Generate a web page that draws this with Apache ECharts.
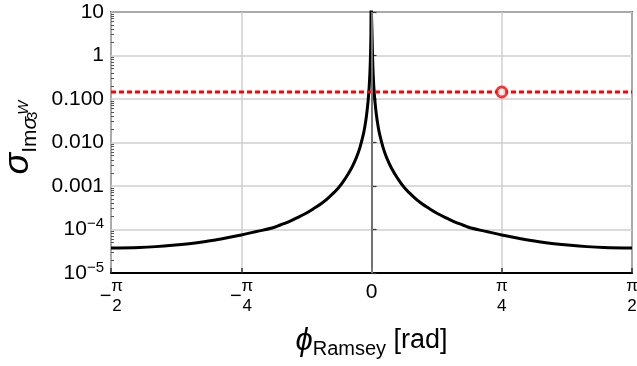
<!DOCTYPE html>
<html>
<head>
<meta charset="utf-8">
<script src="https://cdn.jsdelivr.net/npm/echarts@6/dist/echarts.min.js"></script>
<style>
  html, body { margin: 0; padding: 0; background: #fff; }
  #chart { width: 637px; height: 366px; }
</style>
</head>
<body>
<div id="chart"></div>
<script>
// phase (rad) and read-off sigma values of the black curve
const phi = [
  -1.5708, -1.4, -1.3, -1.2, -1.1, -1.0, -0.9, -0.785, -0.7, -0.6, -0.55, -0.5, -0.45, -0.4, -0.35, -0.3, -0.25,
  -0.2, -0.16, -0.12, -0.09, -0.07, -0.05, -0.04, -0.03, -0.02, -0.014, -0.01, -0.007, -0.004, -0.0015,
  0.0015, 0.004, 0.007, 0.01, 0.014, 0.02, 0.03, 0.04, 0.05, 0.07, 0.09, 0.12, 0.16, 0.2,
  0.25, 0.3, 0.35, 0.4, 0.45, 0.5, 0.55, 0.6, 0.7, 0.785, 0.9, 1.0, 1.1, 1.2, 1.3, 1.4, 1.5708
]
const sigma = [
  3.75e-5, 3.87e-5, 4.04e-5, 4.32e-5, 4.72e-5, 5.3e-5, 6.1e-5, 7.5e-5, 8.9e-5, 1.08e-4, 1.27e-4, 1.5e-4, 1.85e-4, 2.3e-4, 3.0e-4, 4.0e-4, 5.8e-4,
  9.0e-4, 1.45e-3, 2.6e-3, 4.6e-3, 7.6e-3, 0.0149, 0.0234, 0.0417, 0.094, 0.19, 0.375, 0.77, 2.3, 14,
  14, 2.3, 0.77, 0.375, 0.19, 0.094, 0.0417, 0.0234, 0.0149, 7.6e-3, 4.6e-3, 2.6e-3, 1.45e-3, 9.0e-4,
  5.8e-4, 4.0e-4, 3.0e-4, 2.3e-4, 1.85e-4, 1.5e-4, 1.27e-4, 1.08e-4, 8.9e-5, 7.5e-5, 6.1e-5, 5.3e-5, 4.72e-5, 4.32e-5, 4.04e-5, 3.87e-5, 3.75e-5
]

// red dashed level and its marker
const redLevel = 0.145
const redLinePhi = [-Math.PI / 2, Math.PI / 2]
const markerPhi = Math.PI / 4

// tick labels
const xTickSign = ['−', '−', '', '', '']
const xTickNum = ['π', 'π', '0', 'π', 'π']
const xTickDen = ['2', '4', '', '4', '2']
const yTickExp = [1, 0, -1, -2, -3, -4, -5]
const yTickText = ['10', '1', '0.100', '0.010', '0.001', '10^−4', '10^−5']
const minorMult = [2, 3, 4, 5, 6, 7, 8, 9]
const minorDecades = [-5, -4, -3, -2, -1, 0]

const FONT = "'Liberation Sans', Arial, sans-serif"

const minorTicks = []
minorDecades.forEach(d => minorMult.forEach(m => minorTicks.push(m * Math.pow(10, d))))

const xLabel = v => {
  const i = Math.round(v / (Math.PI / 4)) + 2
  if (xTickNum[i] === '0') return '{z|0}'
  if (xTickSign[i]) {
    return '{sp| }{n|' + xTickNum[i] + '}\n{m|' + xTickSign[i] + '}{sp2| }\n{sp| }{n|' + xTickDen[i] + '}'
  }
  return '{n|' + xTickNum[i] + '}\n{g| }\n{n|' + xTickDen[i] + '}'
}

const yLabel = v => {
  const e = Math.round(Math.log10(v))
  const t = yTickText[yTickExp.indexOf(e)]
  if (t === undefined) return ''
  if (t.indexOf('^') >= 0) {
    const p = t.split('^')
    return '{b|' + p[0] + '}{s|' + p[1] + '}'
  }
  return '{b|' + t + '}'
}

const chart = echarts.init(document.getElementById('chart'))

const option = {
  animation: false,
  backgroundColor: '#fff',
  textStyle: { fontFamily: FONT },
  grid: {
    left: 111, right: 5, top: 12, bottom: 93,
    outerBoundsMode: 'none',
    containLabel: false,
    show: true, borderColor: '#000', borderWidth: 1.5
  },
  xAxis: {
    type: 'value',
    min: -Math.PI / 2,
    max: Math.PI / 2,
    interval: Math.PI / 4,
    axisLine: { onZero: false, lineStyle: { color: '#000', width: 2 } },
    axisTick: { inside: true, length: 5, lineStyle: { color: '#333', width: 1.5 } },
    splitLine: { show: true, lineStyle: { color: '#cfcfcf', width: 1.5 } },
    axisLabel: {
      margin: 5,
      color: '#000',
      formatter: xLabel,
      rich: {
        n: { fontFamily: FONT, fontSize: 17, lineHeight: 16, width: 11, align: 'center', color: '#000' },
        m: { fontFamily: FONT, fontSize: 20, lineHeight: 4, width: 12, align: 'center', color: '#000' },
        sp: { fontSize: 16, lineHeight: 16, width: 12 },
        sp2: { fontSize: 16, lineHeight: 4, width: 11 },
        g: { fontSize: 16, lineHeight: 4, width: 11 },
        z: { fontFamily: FONT, fontSize: 21, lineHeight: 28, color: '#000' }
      }
    },
    name: '{p|ϕ}{r|Ramsey}{u| [rad]}',
    nameLocation: 'middle',
    nameGap: 50,
    nameTextStyle: {
      rich: {
        p: { fontFamily: FONT, fontSize: 31, fontStyle: 'italic', lineHeight: 36, color: '#000' },
        r: { fontFamily: FONT, fontSize: 20, lineHeight: 20, verticalAlign: 'bottom', color: '#000' },
        u: { fontFamily: FONT, fontSize: 27, lineHeight: 36, color: '#000' }
      }
    }
  },
  yAxis: [
    {
      type: 'log',
      logBase: 10,
      min: 1e-5,
      max: 10,
      splitNumber: 6,
      axisLine: { lineStyle: { color: '#000', width: 2 } },
      axisTick: { inside: true, length: 5, lineStyle: { color: '#333', width: 1.2 } },
      splitLine: { show: true, lineStyle: { color: '#cfcfcf', width: 1.5 } },
      axisLabel: {
        margin: 7,
        color: '#000',
        formatter: yLabel,
        rich: {
          b: { fontFamily: FONT, fontSize: 21, lineHeight: 26, color: '#000' },
          s: { fontFamily: FONT, fontSize: 15, lineHeight: 13, verticalAlign: 'top', color: '#000' }
        }
      },
      name: '{s|σ}{i|Im}{is|σ}{t|3}{w|W}',
      nameLocation: 'middle',
      nameRotate: 90,
      nameGap: 70,
      nameTextStyle: {
        padding: [0, 0, 0, 10],
        rich: {
          s: { fontFamily: FONT, fontSize: 36, fontStyle: 'italic', lineHeight: 46, color: '#000' },
          i: { fontFamily: FONT, fontSize: 21, lineHeight: 21, verticalAlign: 'bottom', color: '#000' },
          is: { fontFamily: FONT, fontSize: 21, fontStyle: 'italic', lineHeight: 21, verticalAlign: 'bottom', color: '#000' },
          t: { fontFamily: FONT, fontSize: 15, lineHeight: 15, width: 2, verticalAlign: 'bottom', color: '#000' },
          w: { fontFamily: FONT, fontSize: 15, fontStyle: 'italic', lineHeight: 15, padding: [0, 0, 9, 0], verticalAlign: 'bottom', color: '#000' }
        }
      }
    },
    {
      // log-spaced minor ticks on the left spine
      type: 'log',
      logBase: 10,
      min: 1e-5,
      max: 10,
      position: 'left',
      axisLine: { show: false },
      axisLabel: { show: false },
      splitLine: { show: false },
      axisTick: { inside: true, length: 3, customValues: minorTicks, lineStyle: { color: '#555', width: 1 } }
    }
  ],
  series: [
    {
      type: 'line',
      data: phi.map((p, i) => [p, sigma[i]]),
      showSymbol: false,
      symbol: 'none',
      smooth: 0.4,
      clip: true,
      lineStyle: { color: '#000', width: 3, join: 'round' },
      z: 3,
      markLine: {
        silent: true,
        symbol: 'none',
        label: { show: false },
        lineStyle: { color: '#999', width: 1.5, type: 'solid' },
        data: [{ xAxis: 0 }]
      }
    },
    {
      type: 'line',
      data: redLinePhi.map(p => [p, redLevel]),
      symbol: 'none',
      lineStyle: { color: '#ff0000', width: 3, type: [5, 3] },
      z: 4
    },
    {
      type: 'scatter',
      data: [[markerPhi, redLevel]],
      symbol: 'circle',
      symbolSize: 10,
      itemStyle: { color: '#fff', borderColor: '#ff0000', borderWidth: 3 },
      z: 5
    }
  ]
}

chart.setOption(option)
</script>
</body>
</html>
